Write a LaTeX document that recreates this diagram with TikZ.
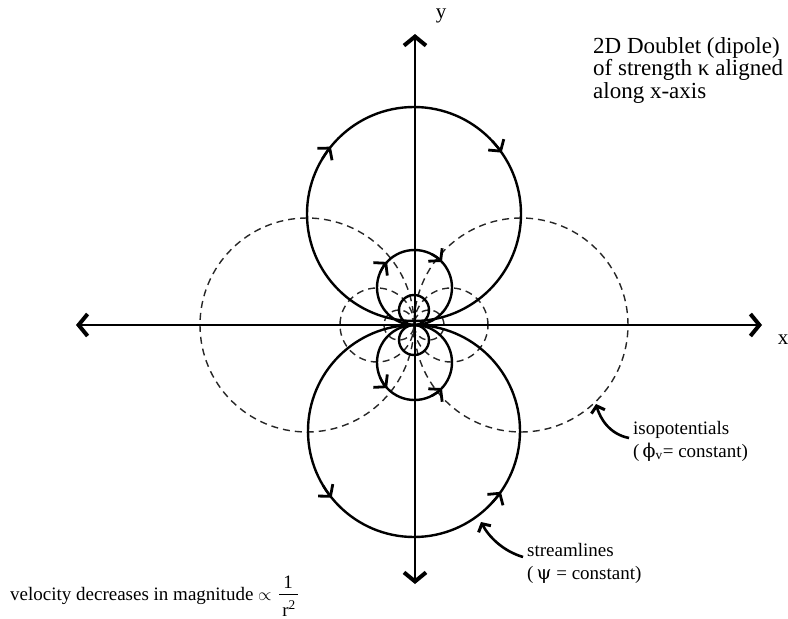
\documentclass[tikz,border=0pt]{standalone}
\usepackage{fontspec}
\setmainfont{Liberation Serif}
\newfontfamily\greekserif{DejaVu Serif}
\usetikzlibrary{arrows.meta}
\tikzset{
  chev/.tip={Straight Barb[length=8pt,width=19pt,line width=2.8pt]},
  axtip/.tip={Straight Barb[length=9pt,width=22pt,line width=4pt]},
  ptrtip/.tip={Straight Barb[length=6pt,width=14pt,line width=3pt]},
}
\begin{document}
\begin{tikzpicture}[x=1pt,y=-1pt,
  axisline/.style={line width=2pt, axtip-axtip},
  stream/.style={line width=2.4pt},
  flowmark/.style={line width=2.4pt, -chev},
  iso/.style={line width=1.4pt, dash pattern=on 7pt off 5pt, black!85},
  pointer/.style={line width=2.6pt, -ptrtip},
  title/.style={font=\fontsize{23}{22.5}\selectfont, align=left, inner sep=0pt},
  lab/.style={font=\fontsize{19}{23}\selectfont, align=left, inner sep=0pt},
  axlab/.style={font=\fontsize{21}{21}\selectfont, inner sep=0pt},
]
\useasboundingbox (0,0) rectangle (788,619);

% isopotentials (dashed)
\draw[iso] (307,325) circle (107pt);
\draw[iso] (521,325) circle (107pt);
\draw[iso] (377,325) circle (37pt);
\draw[iso] (451,325) circle (37pt);
\draw[iso] (399,325) circle (15pt);
\draw[iso] (429,325) circle (15pt);

% streamlines
\coordinate (ctop) at (414,214);
\coordinate (cbot) at (414,431);
\coordinate (mtop) at (414.5,287.5);
\coordinate (mbot) at (414.5,362.5);
\coordinate (stop) at (414,310);
\coordinate (sbot) at (414,340);
\draw[stream] (ctop) circle (107pt);
\draw[stream] (cbot) circle (106pt);
\draw[stream] (mtop) circle (37.5pt);
\draw[stream] (mbot) circle (37.5pt);
\draw[stream] (stop) circle (15pt);
\draw[stream] (sbot) circle (15pt);

% flow direction marks
\draw[flowmark] ([shift={(149:107pt)}]ctop) arc (149:141:107pt);
\draw[flowmark] ([shift={(43:107pt)}]ctop) arc (43:35:107pt);
\draw[flowmark] ([shift={(-149:106pt)}]cbot) arc (-149:-141:106pt);
\draw[flowmark] ([shift={(-43:106pt)}]cbot) arc (-43:-35:106pt);
\draw[flowmark] ([shift={(157:37.5pt)}]mtop) arc (157:137:37.5pt);
\draw[flowmark] ([shift={(63:37.5pt)}]mtop) arc (63:43:37.5pt);
\draw[flowmark] ([shift={(-157:37.5pt)}]mbot) arc (-157:-137:37.5pt);
\draw[flowmark] ([shift={(-63:37.5pt)}]mbot) arc (-63:-43:37.5pt);

% axes
\coordinate (xl) at (76,325);
\coordinate (xr) at (762,325);
\coordinate (yt) at (415,34);
\coordinate (yb) at (415,584);
\draw[axisline] (xl) -- (xr);
\draw[axisline] (yb) -- (yt);
\node[axlab] (xlab) at (783,340) {x};
\node[axlab] (ylab) at (441,16) {y};

% title
\node[title, anchor=north west] (title) at (593,37)
  {2D Doublet (dipole)\\of strength κ aligned\\along x-axis};

% isopotential label
\node[lab, anchor=north west] (isolab) at (633,421)
  {isopotentials\\(\,{\greekserif ϕ}\textsubscript{v}= constant)};
\coordinate (isotail) at (629,438);
\coordinate (isotip) at (596,404);
\draw[pointer] (isotail) .. controls (609,434) and (600,418) .. (isotip);

% streamline label
\node[lab, anchor=north west] (strlab) at (527,543)
  {streamlines\\(\,{\greekserif ψ} = constant)};
\coordinate (strtail) at (523,557);
\coordinate (strtip) at (481,522);
\draw[pointer] (strtail) .. controls (503,551) and (489,537) .. (strtip);

% velocity note
\node[lab, anchor=base west] (vel) at (10,600)
  {velocity decreases in magnitude $\propto$};
\node[lab, anchor=base] (num) at (288,588) {1};
\node[lab, anchor=base] (den) at (289,616) {r\textsuperscript{2}};
\coordinate (barl) at (279,594);
\coordinate (barr) at (298,594);
\draw[line width=0.9pt] (barl) -- (barr);
\end{tikzpicture}
\end{document}
